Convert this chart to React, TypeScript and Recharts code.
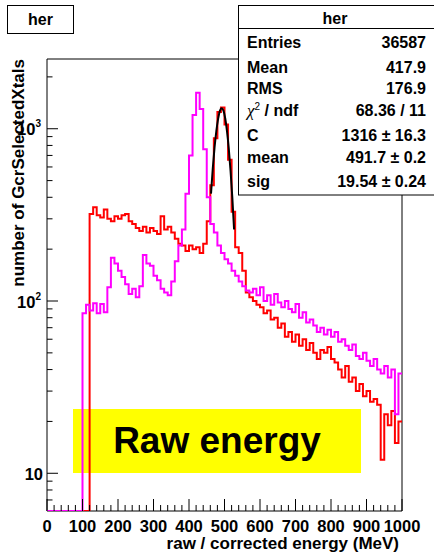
import { ComposedChart, Line, XAxis, YAxis, ReferenceArea } from 'recharts'

// 10 MeV bins, low edge = index * BIN_WIDTH
const BIN_WIDTH = 10

// raw energy (red)
const RAW = [
  0, 0, 0, 0, 0, 0, 0, 0, 0, 0,
  0, 0, 320, 350, 315, 305, 340, 300, 290, 310,
  300, 315, 320, 290, 280, 265, 255, 270, 250, 265,
  255, 245, 310, 260, 270, 250, 230, 215, 210, 195,
  210, 200, 205, 190, 215, 290, 470, 880, 1250, 1330,
  1060, 660, 330, 205, 190, 150, 112, 105, 100, 95,
  92, 85, 88, 78, 80, 70, 74, 62, 66, 58,
  64, 55, 60, 52, 57, 50, 46, 52, 50, 54,
  46, 44, 40, 36, 42, 34, 36, 30, 33, 28,
  30, 26, 27, 25, 12, 22, 19, 23, 15, 20,
]

// corrected energy (magenta)
const CORRECTED = [
  0, 0, 0, 0, 0, 0, 0, 0, 0, 0,
  85, 95, 88, 97, 85, 96, 86, 120, 178, 165,
  150, 138, 125, 110, 118, 105, 122, 185, 165, 160,
  140, 132, 118, 112, 108, 130, 170, 210, 260, 420,
  700, 1200, 1620, 1300, 760, 400, 280, 250, 210, 190,
  175, 165, 150, 140, 130, 122, 115, 112, 118, 108,
  120, 100, 108, 95, 110, 98, 92, 100, 90, 86,
  96, 80, 86, 75, 78, 72, 66, 70, 64, 68,
  62, 66, 58, 60, 55, 52, 56, 48, 46, 50,
  45, 42, 46, 40, 38, 42, 36, 40, 22, 38,
]

// gaussian fit on the raw peak
const FIT_E = [462, 467, 472, 477, 482, 487, 492, 497, 502, 507, 512, 517, 522, 527]
const FIT_V = [420, 590, 780, 970, 1140, 1270, 1316, 1275, 1150, 970, 770, 570, 400, 260]

const X_TICKS = [0, 100, 200, 300, 400, 500, 600, 700, 800, 900, 1000]
const X_MINOR_STEP = 20
const Y_TICKS = [
  7, 8, 9, 10, 20, 30, 40, 50, 60, 70, 80, 90,
  100, 200, 300, 400, 500, 600, 700, 800, 900, 1000, 2000,
]
const Y_LABELS: Record<number, string> = { 10: '', 100: '2', 1000: '3' }

const Y_MIN = 6.04
const Y_MAX = 2540

const STATS = [
  ['Entries', '36587'],
  ['Mean', '417.9'],
  ['RMS', '176.9'],
  ['chi', '68.36 / 11'],
  ['C', '1316 \u00b1 16.3'],
  ['mean', '491.7 \u00b1 0.2'],
  ['sig', '19.54 \u00b1 0.24'],
]
const STAT_BASELINES = [48, 73, 94, 116, 141, 163, 187]

const FONT = '"Liberation Sans", Arial, Helvetica, sans-serif'
const PLOT = { left: 47, right: 402, top: 59, bottom: 511 }

const xTickValues: number[] = []
for (let v = 0; v <= 1000; v += X_MINOR_STEP) xTickValues.push(v)

const rows = RAW.map((r, i) => ({
  e: i * BIN_WIDTH,
  red: Math.max(r, Y_MIN),
  mag: Math.max(CORRECTED[i], Y_MIN),
}))
rows.push({ e: RAW.length * BIN_WIDTH, red: rows[rows.length - 1].red, mag: rows[rows.length - 1].mag })

const fitRows = FIT_E.map((e, i) => ({ e, fit: FIT_V[i] }))

function XTick(props: any) {
  const { x, payload } = props
  const major = X_TICKS.includes(payload.value)
  return (
    <g>
      <line x1={x} x2={x} y1={PLOT.bottom} y2={PLOT.bottom - (major ? 12 : 6)} stroke="#000" strokeWidth={1} />
      {major && (
        <text x={x} y={532} textAnchor="middle" fontFamily={FONT} fontWeight="bold" fontSize={16.5} fill="#000">
          {payload.value}
        </text>
      )}
    </g>
  )
}

function YTick(props: any) {
  const { y, payload } = props
  const v = payload.value
  const sup = Y_LABELS[v]
  const major = sup !== undefined
  return (
    <g>
      <line x1={PLOT.left} x2={PLOT.left + (major ? 11 : 5.5)} y1={y} y2={y} stroke="#000" strokeWidth={1} />
      {major && (
        <text x={sup ? 41 : 43} y={y + 6.5} textAnchor="end" fontFamily={FONT} fontWeight="bold" fontSize={16.5} fill="#000">
          10
          {sup && <tspan dy={-8} fontSize={10}>{sup}</tspan>}
        </text>
      )}
    </g>
  )
}

export default function App() {
  return (
    <div style={{ position: 'relative', width: 434, height: 559, background: '#fff', overflow: 'hidden' }}>
      <style>{'body{margin:0}'}</style>
      <svg width={434} height={559} style={{ position: 'absolute', left: 0, top: 0 }}>
        <rect x={73} y={409} width={288} height={64} fill="#ffff00" />
        <text x={217} y={453} textAnchor="middle" fontFamily={FONT} fontWeight="bold" fontSize={37} fill="#000">
          Raw energy
        </text>
      </svg>
      <div style={{ position: 'absolute', left: 0, top: 0 }}>
        <ComposedChart width={434} height={559} data={rows} margin={{ top: PLOT.top, right: 434 - PLOT.right, bottom: 0, left: 0 }}>
          <XAxis
            dataKey="e"
            type="number"
            domain={[0, 1000]}
            ticks={xTickValues}
            interval={0}
            height={559 - PLOT.bottom}
            tick={<XTick />}
            tickLine={false}
            axisLine={false}
            allowDataOverflow
          />
          <YAxis
            type="number"
            scale="log"
            domain={[Y_MIN, Y_MAX]}
            ticks={Y_TICKS}
            interval={0}
            width={PLOT.left}
            tick={<YTick />}
            tickLine={false}
            axisLine={false}
            allowDataOverflow
          />
          <ReferenceArea x1={0} x2={1000} y1={Y_MIN} y2={Y_MAX} fill="none" stroke="#000" strokeWidth={1} />
          <Line dataKey="red" type="stepAfter" stroke="#ff0000" strokeWidth={2} dot={false} isAnimationActive={false} />
          <Line data={fitRows} dataKey="fit" type="monotone" stroke="#000" strokeWidth={2} dot={false} isAnimationActive={false} />
          <Line dataKey="mag" type="stepAfter" stroke="#ff00ff" strokeWidth={2} dot={false} isAnimationActive={false} />
        </ComposedChart>
      </div>
      <svg width={434} height={559} style={{ position: 'absolute', left: 0, top: 0, pointerEvents: 'none' }}>
        <g fontFamily={FONT} fontWeight="bold" fill="#000">
          <text transform="translate(24,59) rotate(-90)" textAnchor="end" fontSize={17}>
            number of GcrSelectedXtals
          </text>
          <text x={399} y={549} textAnchor="end" fontSize={17}>
            raw / corrected energy (MeV)
          </text>
          <rect x={7.5} y={5.5} width={66} height={28} fill="#fff" stroke="#000" strokeWidth={1} />
          <text x={40.5} y={25} textAnchor="middle" fontSize={16}>her</text>
          <rect x={238.5} y={5.5} width={210} height={189.5} fill="#fff" stroke="#000" strokeWidth={1} />
          <line x1={238.5} x2={434} y1={28.5} y2={28.5} stroke="#000" strokeWidth={1} />
          <text x={335} y={24} textAnchor="middle" fontSize={16}>her</text>
          {STATS.map(([name, val], i) => (
            <g key={name + i}>
              {name === 'chi' ? (
                <text x={247} y={STAT_BASELINES[i]} fontSize={16}>
                  <tspan fontFamily='"Liberation Serif", serif' fontStyle="italic" fontWeight="normal" fontSize={17}>χ</tspan>
                  <tspan dy={-6} fontSize={10} fontWeight="normal">2</tspan>
                  <tspan dy={6}> / ndf</tspan>
                </text>
              ) : (
                <text x={247} y={STAT_BASELINES[i]} fontSize={16}>{name}</text>
              )}
              <text x={426} y={STAT_BASELINES[i]} textAnchor="end" fontSize={16}>{val}</text>
            </g>
          ))}
        </g>
      </svg>
    </div>
  )
}
